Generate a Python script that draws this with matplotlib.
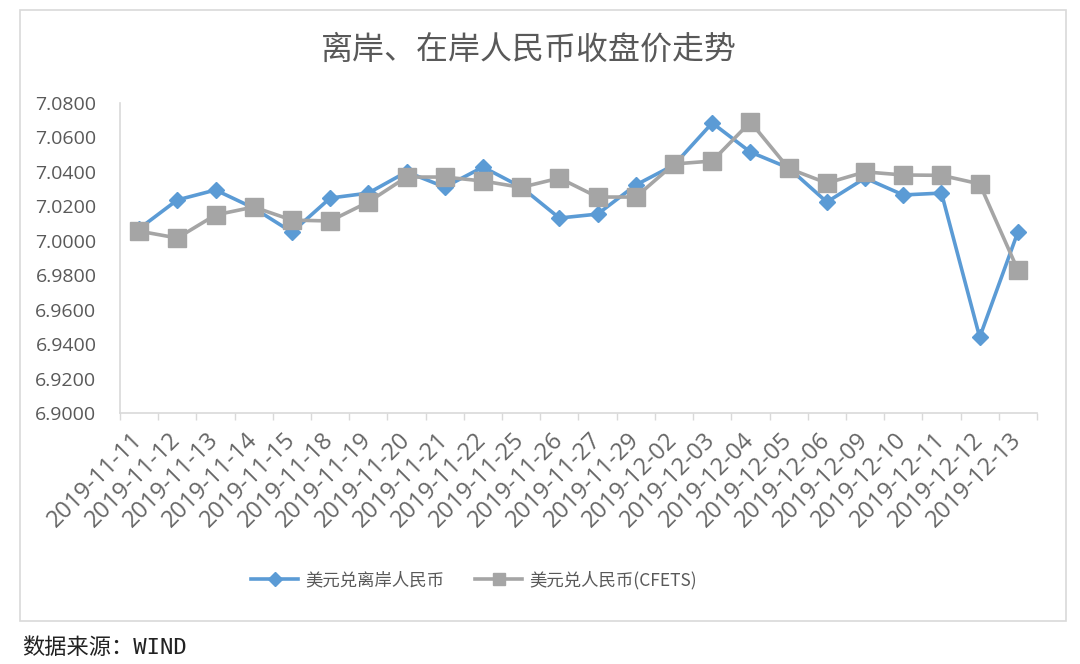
import matplotlib
matplotlib.use("Agg")
import matplotlib.pyplot as plt
from matplotlib.lines import Line2D
from matplotlib.patches import Rectangle

dates = ["2019-11-11", "2019-11-12", "2019-11-13", "2019-11-14", "2019-11-15",
         "2019-11-18", "2019-11-19", "2019-11-20", "2019-11-21", "2019-11-22",
         "2019-11-25", "2019-11-26", "2019-11-27", "2019-11-29", "2019-12-02",
         "2019-12-03", "2019-12-04", "2019-12-05", "2019-12-06", "2019-12-09",
         "2019-12-10", "2019-12-11", "2019-12-12", "2019-12-13"]
offshore = [7.0070, 7.0237, 7.0295, 7.0190, 7.0050, 7.0248, 7.0277, 7.0400,
            7.0312, 7.0428, 7.0312, 7.0132, 7.0155, 7.0324, 7.0440, 7.0684,
            7.0515, 7.0423, 7.0225, 7.0364, 7.0266, 7.0277, 6.9440, 7.0051]
onshore = [7.0056, 7.0016, 7.0150, 7.0196, 7.0120, 7.0115, 7.0225, 7.0370,
           7.0370, 7.0347, 7.0310, 7.0364, 7.0254, 7.0254, 7.0446, 7.0463,
           7.0690, 7.0420, 7.0335, 7.0400, 7.0382, 7.0380, 7.0330, 6.9830]
yticks = [6.90, 6.92, 6.94, 6.96, 6.98, 7.00, 7.02, 7.04, 7.06, 7.08]
series_names = ["美元兑离岸人民币", "美元兑人民币(CFETS)"]
title = "离岸、在岸人民币收盘价走势"
source = "数据来源：WIND"

BLUE = "#5B9BD5"
GRAY = "#A5A5A5"
TXT = "#595959"
W, H = 1080, 664

fig = plt.figure(figsize=(W / 100, H / 100), dpi=100)
fig.patch.set_facecolor("white")

# chart border
fig.patches.append(Rectangle((20 / W, 1 - 621 / H), (1066 - 20) / W, (621 - 10) / H,
                             transform=fig.transFigure, fill=False,
                             edgecolor="#D9D9D9", linewidth=1.2))

ax = fig.add_axes([120 / W, 1 - 413 / H, (1037 - 120) / W, (413 - 103) / H])
x = list(range(len(dates)))
ax.plot(x, offshore, color=BLUE, lw=2.6, marker="D", ms=8.5, mfc=BLUE, mec=BLUE, zorder=3)
ax.plot(x, onshore, color=GRAY, lw=2.6, marker="s", ms=13, mfc=GRAY, mec=GRAY, zorder=4)

ax.set_xlim(-0.5, len(dates) - 0.5)
ax.set_ylim(yticks[0], yticks[-1])
ax.set_yticks(yticks)
ax.set_yticklabels([f"{v:.4f}" for v in yticks], fontsize=14, color=TXT, family="Open Sans")
ax.tick_params(axis="y", length=0, pad=17)

ax.set_xticks(x)
ax.set_xticklabels(dates, rotation=45, ha="right", va="center", rotation_mode="anchor",
                   fontsize=17, color="#666666", family="Open Sans")
ax.tick_params(axis="x", length=0, pad=17)
ax.set_xticks([i - 0.5 for i in range(len(dates) + 1)], minor=True)
ax.tick_params(axis="x", which="minor", length=5, color="#D9D9D9", width=1)

for s in ["top", "right"]:
    ax.spines[s].set_visible(False)
for s in ["left", "bottom"]:
    ax.spines[s].set_color("#D9D9D9")
    ax.spines[s].set_linewidth(1.2)

fig.text(529 / W, 1 - 50 / H, title, ha="center", va="center", fontsize=23,
         color=TXT, family=["Noto Sans CJK SC"], weight="medium")

handles = [Line2D([], [], color=BLUE, lw=2.6, marker="D", ms=7, mfc=BLUE, mec=BLUE),
           Line2D([], [], color=GRAY, lw=2.6, marker="s", ms=9, mfc=GRAY, mec=GRAY)]
fig.legend(handles, series_names, loc="center", bbox_to_anchor=(474 / W, 1 - 580 / H),
           ncol=2, frameon=False, handlelength=2.7, handletextpad=0.4, columnspacing=1.8,
           prop={"family": ["Noto Sans CJK SC"], "size": 12.5}, labelcolor=TXT)

fig.text(22 / W, 1 - 648 / H, source, ha="left", va="center", fontsize=16,
         color="#222222", family=["DejaVu Sans Mono", "Noto Sans CJK SC"])

fig.savefig("out.png", dpi=100, facecolor="white")
